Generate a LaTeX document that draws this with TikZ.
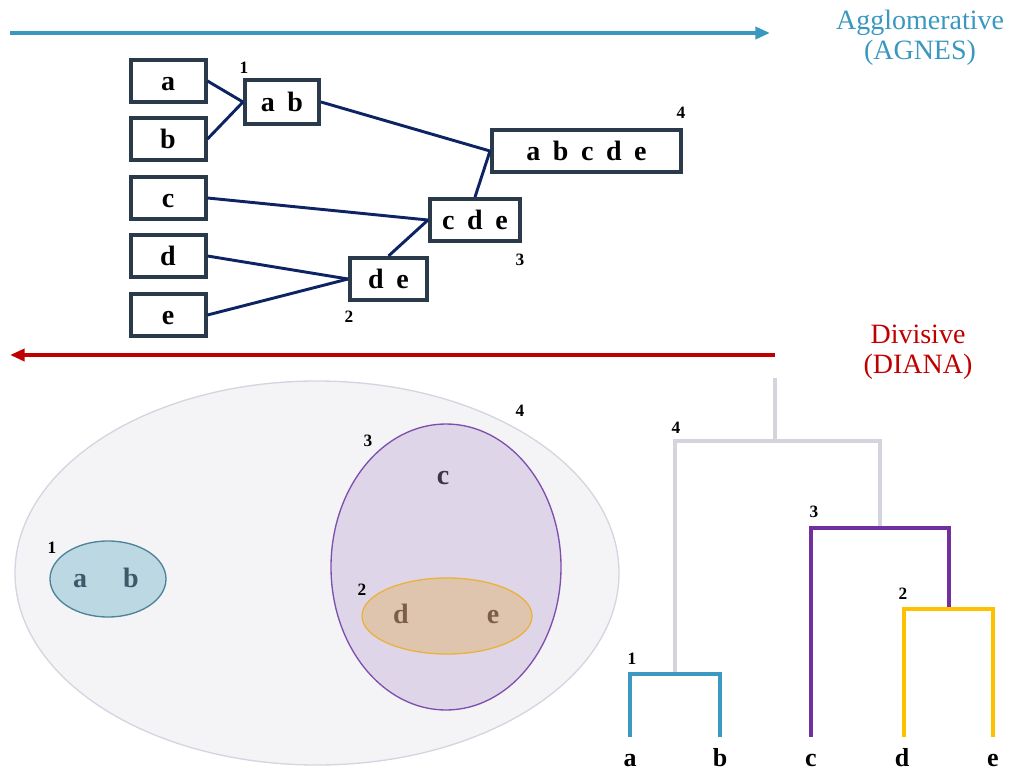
\documentclass[tikz,border=0pt]{standalone}
\usepackage{fontspec}
\setmainfont{Liberation Serif}
\usetikzlibrary{arrows.meta}

\definecolor{aggblue}{HTML}{3A97BF}
\definecolor{divred}{HTML}{C00000}
\definecolor{boxline}{HTML}{2B3A4A}
\definecolor{link}{HTML}{0E2363}
\definecolor{treegray}{HTML}{D4D3DE}
\definecolor{outerfill}{HTML}{F4F4F7}
\definecolor{outerline}{HTML}{D6D4E0}
\definecolor{abfill}{HTML}{BCD8E3}
\definecolor{abline}{HTML}{4D8399}
\definecolor{abtext}{HTML}{3D5868}
\definecolor{cdefill}{HTML}{DFD5E8}
\definecolor{cdeline}{HTML}{7F4FAE}
\definecolor{ctext}{HTML}{3E3448}
\definecolor{defill}{HTML}{E0C5AE}
\definecolor{deline}{HTML}{E9B23E}
\definecolor{detext}{HTML}{7B5E48}
\definecolor{dendblue}{HTML}{3C9AC2}
\definecolor{dendpurple}{HTML}{7030A0}
\definecolor{dendyellow}{HTML}{FFC000}

\tikzset{
  clusterbox/.style={draw=boxline, line width=3pt, fill=white, inner sep=0pt,
    minimum height=31.5pt, text height=14pt, text depth=0pt,
    font=\fontsize{21}{23}\selectfont\bfseries},
  leafbox/.style={clusterbox, minimum width=56.25pt},
  merge/.style={draw=link, line width=2.2pt},
  stepno/.style={font=\fontsize{13}{15}\selectfont\bfseries, inner sep=0pt},
  methodlabel/.style={align=center, font=\fontsize{21}{22.5}\selectfont},
  dirarrow/.style={line width=3pt, -{Triangle[length=11pt,width=9pt]}},
  inlabel/.style={font=\fontsize{21}{23}\selectfont\bfseries, inner sep=0pt, anchor=base},
  leaflabel/.style={font=\fontsize{19.5}{21}\selectfont\bfseries, inner sep=0pt, anchor=base},
  branch/.style={line width=3pt, line cap=rect},
}

\begin{document}
\begin{tikzpicture}[x=0.75pt, y=-0.75pt]
\useasboundingbox (0,0) rectangle (1011,770);

% ---------- agglomerative direction ----------
\coordinate (aggL) at (10,33);
\coordinate (aggR) at (770,33);
\draw[dirarrow, aggblue] (aggL) -- (aggR);
\node[methodlabel, text=aggblue] (aggtxt) at (920,38) {Agglomerative\\(AGNES)};

% ---------- merge boxes ----------
\node[leafbox] (a) at (168,81)  {a};
\node[leafbox] (b) at (168,139) {b};
\node[leafbox] (c) at (168,198) {c};
\node[leafbox] (d) at (168,256) {d};
\node[leafbox] (e) at (168,315) {e};
\node[clusterbox, minimum width=55.5pt, minimum height=33pt] (ab) at (282,102) {a\hspace{0.45em}b};
\node[clusterbox, minimum width=141.75pt] (abcde) at (586.5,151) {a\hspace{0.45em}b\hspace{0.45em}c\hspace{0.45em}d\hspace{0.45em}e};
\node[clusterbox, minimum width=67.5pt] (cde) at (475,220) {c\hspace{0.45em}d\hspace{0.45em}e};
\node[clusterbox, minimum width=57.75pt] (de) at (388.5,279) {d\hspace{0.45em}e};

\draw[merge] (a.east) -- (ab.west);
\draw[merge] (b.east) -- (ab.west);
\draw[merge] (ab.east) -- (abcde.west);
\draw[merge] (c.east) -- (cde.west);
\draw[merge] (cde.north) -- (abcde.west);
\draw[merge] (d.east) -- (de.west);
\draw[merge] (e.east) -- (de.west);
\draw[merge] (de.north) -- (cde.west);

\node[stepno] (t1) at (244,68)  {1};
\node[stepno] (t4) at (681,113) {4};
\node[stepno] (t3) at (520,260) {3};
\node[stepno] (t2) at (349,317) {2};

% ---------- divisive direction ----------
\coordinate (divR) at (775,355);
\coordinate (divL) at (10,355);
\draw[dirarrow, divred] (divR) -- (divL);
\node[methodlabel, text=divred] (divtxt) at (918,352) {Divisive\\(DIANA)};

% ---------- nested clusters ----------
\draw[fill=outerfill, draw=outerline, line width=1pt] (317,573) ellipse [x radius=226.5pt, y radius=144pt];
\draw[fill=abfill, draw=abline, line width=1pt] (108,579) ellipse [x radius=43.5pt, y radius=28.5pt];
\draw[fill=cdefill, draw=cdeline, line width=1pt] (446,567) ellipse [x radius=86.25pt, y radius=107.25pt];
\draw[fill=defill, draw=deline, line width=1pt] (447,616) ellipse [x radius=63.75pt, y radius=28.5pt];

\node[inlabel, text=abtext] (ea) at (80,587)  {a};
\node[inlabel, text=abtext] (eb) at (131,587) {b};
\node[inlabel, text=ctext]  (ec) at (443,484) {c};
\node[inlabel, text=detext] (ed) at (401,623) {d};
\node[inlabel, text=detext] (ee) at (493,623) {e};

\node[stepno] (s1) at (52,548)  {1};
\node[stepno] (s4) at (520,411) {4};
\node[stepno] (s3) at (368,441) {3};
\node[stepno] (s2) at (362,590) {2};

% ---------- dendrogram ----------
\coordinate (la) at (630,735);
\coordinate (lb) at (720,735);
\coordinate (lc) at (811,735);
\coordinate (ld) at (904,735);
\coordinate (le) at (993,735);
\coordinate (j1) at (675,674);
\coordinate (j2) at (948.5,609);
\coordinate (j3) at (880,528);
\coordinate (j4) at (775,441);
\coordinate (root) at (775,380);

\draw[branch, treegray] (root) -- (j4);
\draw[branch, treegray] (j1) -- (j1 |- j4) -- (j3 |- j4) -- (j3);
\draw[branch, dendblue] (la) -- (la |- j1) -- (lb |- j1) -- (lb);
\draw[branch, dendpurple] (lc) -- (lc |- j3) -- (j2 |- j3) -- (j2);
\draw[branch, dendyellow] (ld) -- (ld |- j2) -- (le |- j2) -- (le);

\node[leaflabel] (na) at (630,766) {a};
\node[leaflabel] (nb) at (720,766) {b};
\node[leaflabel] (nc) at (811,766) {c};
\node[leaflabel] (nd) at (902,766) {d};
\node[leaflabel] (ne) at (993,766) {e};

\node[stepno] (d4) at (676,428) {4};
\node[stepno] (d3) at (814,512) {3};
\node[stepno] (d2) at (903,594) {2};
\node[stepno] (d1) at (632,659) {1};
\end{tikzpicture}
\end{document}
